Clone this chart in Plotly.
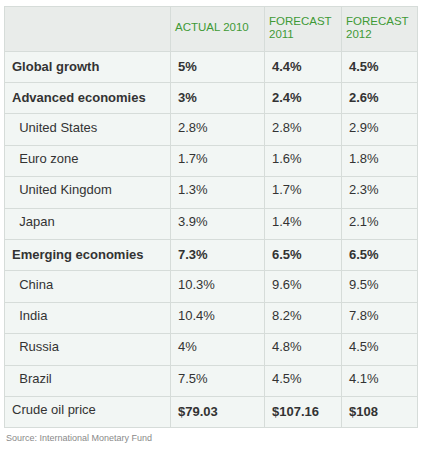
import plotly.graph_objects as go

headers = ["", "ACTUAL 2010", "FORECAST<br>2011", "FORECAST<br>2012"]
labels = ["Global growth", "Advanced economies", "United States", "Euro zone",
          "United Kingdom", "Japan", "Emerging economies", "China", "India",
          "Russia", "Brazil", "Crude oil price"]
actual_2010 = ["5%", "3%", "2.8%", "1.7%", "1.3%", "3.9%", "7.3%", "10.3%", "10.4%", "4%", "7.5%", "$79.03"]
forecast_2011 = ["4.4%", "2.4%", "2.8%", "1.6%", "1.7%", "1.4%", "6.5%", "9.6%", "8.2%", "4.8%", "4.5%", "$107.16"]
forecast_2012 = ["4.5%", "2.6%", "2.9%", "1.8%", "2.3%", "2.1%", "6.5%", "9.5%", "7.8%", "4.5%", "4.1%", "$108"]
bold_rows = ["Global growth", "Advanced economies", "Emerging economies"]
bold_value_rows = bold_rows + ["Crude oil price"]
indented_rows = ["United States", "Euro zone", "United Kingdom", "Japan", "China", "India", "Russia", "Brazil"]
source = "Source: International Monetary Fund"


def fmt_label(s):
    if s in bold_rows:
        return "<b>" + s + "</b>"
    if s in indented_rows:
        return "\u00a0\u00a0" + s
    return s


def fmt_vals(vals):
    return ["<b>" + v + "</b>" if lab in bold_value_rows else v for lab, v in zip(labels, vals)]


FONT = "Arial, Liberation Sans, sans-serif"
W, H = 424, 452
x0, x1 = 4, 417
top = 6
header_h = 45
line_gap = 13.5
colw = [166, 94, 77, 76]

fig = go.Figure(go.Table(
    columnwidth=colw,
    header=dict(
        values=["" for _ in headers],
        fill_color="#e9ecea",
        line_color="#d6dcd9",
        font=dict(family=FONT, size=12, color="#3f9a36"),
        align="left",
        height=header_h,
    ),
    cells=dict(
        values=[[fmt_label(s) for s in labels], fmt_vals(actual_2010), fmt_vals(forecast_2011), fmt_vals(forecast_2012)],
        fill_color="#f2f6f4",
        line_color="#d6dcd9",
        font=dict(family=FONT, size=13, color="#333333"),
        align="left",
        height=31.4,
    ),
    domain=dict(x=[x0 / W, x1 / W], y=[0, 1 - top / H]),
))

# header texts, vertically centred in the header row, with tight line spacing
scale = (x1 - x0) / sum(colw)
left = x0
for i, h in enumerate(headers):
    if h:
        lines = h.split("<br>")
        n = len(lines)
        for k, ln in enumerate(lines):
            yc = top + header_h / 2 + (k - (n - 1) / 2) * line_gap - 1
            fig.add_annotation(
                text=ln, x=(left + 4) / W, y=1 - yc / H,
                xref="paper", yref="paper", xanchor="left", yanchor="middle",
                align="left", showarrow=False, borderpad=0,
                font=dict(family=FONT, size=11.5, color="#3f9a36"),
            )
    left += colw[i] * scale

fig.add_annotation(
    text=source, x=4 / W, y=1 - 438 / H, xref="paper", yref="paper",
    xanchor="left", yanchor="middle", showarrow=False,
    font=dict(family=FONT, size=9, color="#8a8a8a"),
)

fig.update_layout(
    width=W, height=H,
    margin=dict(l=0, r=0, t=0, b=0),
    paper_bgcolor="white",
)
fig.write_html("out.html", config={"displayModeBar": False},
               post_script="document.body.style.margin='0px';")
